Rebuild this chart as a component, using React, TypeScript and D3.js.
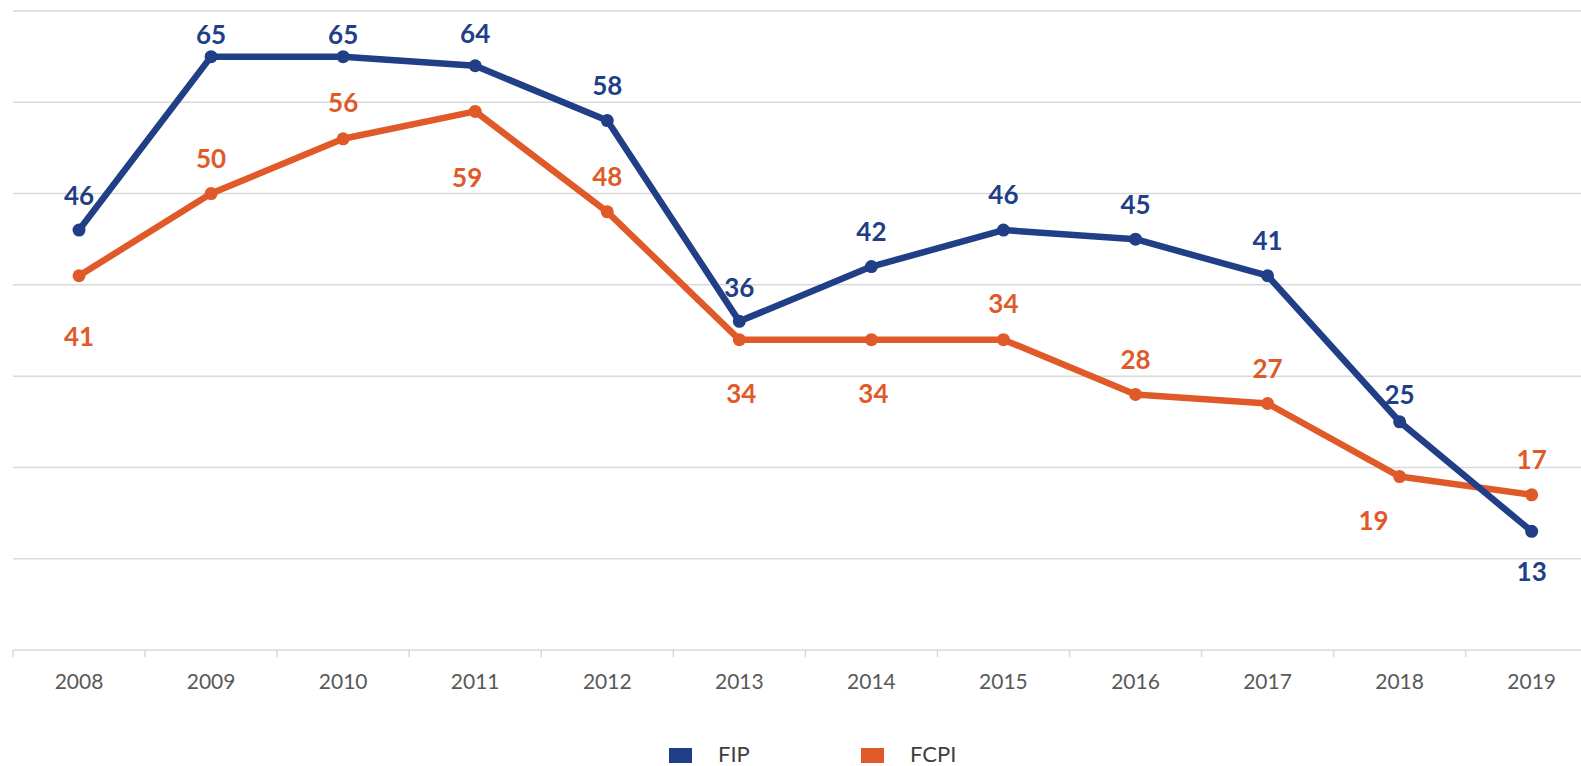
import React, { useEffect, useRef } from 'react';
import * as d3 from 'd3';

const years = ['2008', '2009', '2010', '2011', '2012', '2013', '2014', '2015', '2016', '2017', '2018', '2019'];
const fip = [46, 65, 65, 64, 58, 36, 42, 46, 45, 41, 25, 13];
const fcpi = [41, 50, 56, 59, 48, 34, 34, 34, 28, 27, 19, 17];
const yTicks = [10, 20, 30, 40, 50, 60, 70];

// label offsets from the marker (moved by hand in the original)
const fipLabelDy = [-34, -22, -22, -32, -35, -34, -35, -35, -35, -35, -27, 40];
const fcpiLabelDy = [61, -35, -36, 66, -35, 54, 54, -36, -35, -35, 44, -35];
const fcpiLabelDx = [0, 0, 0, -8, 0, 2, 2, 0, 0, 0, -26, 0];

const App = () => {
  const chartRef = useRef<HTMLDivElement>(null);

  useEffect(() => {
    const width = 1581;
    const height = 766;
    const left = 13;
    const bandW = 132.06;
    const root = d3.select(chartRef.current);
    root.selectAll('*').remove();

    const svg = root.append('svg')
      .attr('width', width)
      .attr('height', height)
      .style('position', 'absolute')
      .style('left', 0)
      .style('top', 0)
      .style('background', '#fff');

    const x = d3.scaleBand()
      .domain(years)
      .range([left, left + bandW * years.length]);

    const y = d3.scaleLinear()
      .domain([0, 70])
      .range([650, 11]);

    const cx = (d: string) => (x(d) as number) + x.bandwidth() / 2;

    // gridlines
    svg.append('g')
      .selectAll('line')
      .data(yTicks)
      .enter()
      .append('line')
      .attr('x1', left)
      .attr('x2', width)
      .attr('y1', d => y(d))
      .attr('y2', d => y(d))
      .attr('stroke', '#d9d9d9')
      .attr('stroke-width', 1.5);

    // x axis
    const axis = svg.append('g');
    axis.append('line')
      .attr('x1', left)
      .attr('x2', width)
      .attr('y1', y(0))
      .attr('y2', y(0))
      .attr('stroke', '#d9d9d9')
      .attr('stroke-width', 1.5);

    axis.selectAll('.tick')
      .data(years)
      .enter()
      .append('line')
      .attr('x1', d => x(d) as number)
      .attr('x2', d => x(d) as number)
      .attr('y1', y(0))
      .attr('y2', y(0) + 7)
      .attr('stroke', '#d9d9d9')
      .attr('stroke-width', 1.5);

    axis.selectAll('text')
      .data(years)
      .enter()
      .append('text')
      .attr('x', d => cx(d))
      .attr('y', 682)
      .attr('dy', '0.35em')
      .attr('text-anchor', 'middle')
      .attr('font-family', 'Lato, "Open Sans", sans-serif')
      .attr('font-size', 21)
      .attr('fill', '#595959')
      .text(d => d);

    const series = [
      { name: 'FIP', values: fip, color: '#213f87', dy: fipLabelDy, dx: years.map(() => 0) },
      { name: 'FCPI', values: fcpi, color: '#e05a29', dy: fcpiLabelDy, dx: fcpiLabelDx },
    ];

    const line = d3.line<number>()
      .x((d, i) => cx(years[i]))
      .y(d => y(d));

    // draw FCPI first so FIP sits on top
    [...series].reverse().forEach(s => {
      const g = svg.append('g');
      g.append('path')
        .attr('d', line(s.values))
        .attr('fill', 'none')
        .attr('stroke', s.color)
        .attr('stroke-width', 6.5)
        .attr('stroke-linejoin', 'round');
      g.selectAll('circle')
        .data(s.values)
        .enter()
        .append('circle')
        .attr('cx', (d, i) => cx(years[i]))
        .attr('cy', d => y(d))
        .attr('r', 6.5)
        .attr('fill', s.color);
    });

    series.forEach(s => {
      svg.append('g')
        .selectAll('text')
        .data(s.values)
        .enter()
        .append('text')
        .attr('x', (d, i) => cx(years[i]) + s.dx[i])
        .attr('y', (d, i) => y(d) + s.dy[i])
        .attr('dy', '0.36em')
        .attr('text-anchor', 'middle')
        .attr('font-family', 'Lato, "Open Sans", sans-serif')
        .attr('font-weight', 'bold')
        .attr('font-size', 26)
        .attr('fill', s.color)
        .text(d => d);
    });

    // legend
    const legendX = [669, 861];
    const legend = svg.append('g');
    series.forEach((s, i) => {
      legend.append('rect')
        .attr('x', legendX[i])
        .attr('y', 748)
        .attr('width', 23)
        .attr('height', 15)
        .attr('fill', s.color);
      legend.append('text')
        .attr('x', legendX[i] + 49)
        .attr('y', 754)
        .attr('dy', '0.35em')
        .attr('font-family', 'Lato, sans-serif')
        .attr('font-size', 22)
        .attr('fill', '#404040')
        .text(s.name);
    });
  }, []);

  return <div ref={chartRef}></div>;
};

export default App;
